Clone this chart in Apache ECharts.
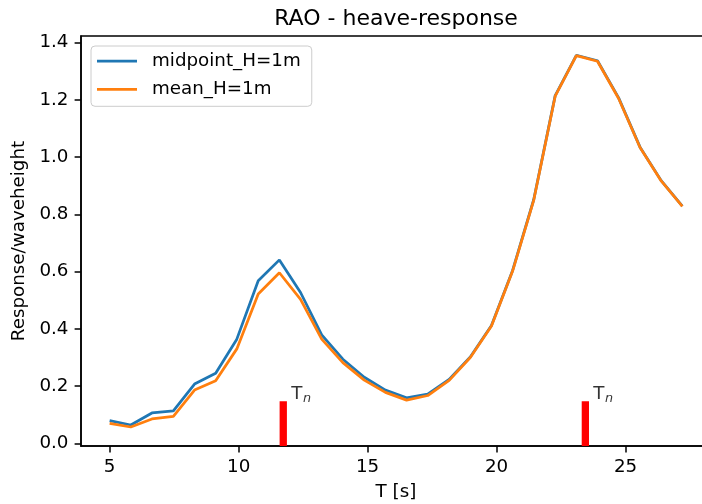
<!DOCTYPE html>
<html><head><meta charset="utf-8">
<script src="https://cdn.jsdelivr.net/npm/echarts@6/dist/echarts.min.js"></script>
<style>html,body{margin:0;padding:0;background:#fff}#c{width:702px;height:504px}</style>
</head><body><div id="c"></div>
<script>
const periods = [5.00, 5.82, 6.64, 7.47, 8.29, 9.11, 9.93, 10.76, 11.58, 12.40, 13.22, 14.04, 14.87, 15.69, 16.51, 17.33, 18.16, 18.98, 19.80, 20.62, 21.44, 22.27, 23.09, 23.91, 24.73, 25.56, 26.38, 27.20];
const midpoint = [0.079, 0.064, 0.106, 0.113, 0.207, 0.245, 0.364, 0.568, 0.641, 0.527, 0.379, 0.294, 0.231, 0.186, 0.159, 0.172, 0.223, 0.302, 0.412, 0.604, 0.852, 1.215, 1.356, 1.337, 1.207, 1.035, 0.918, 0.829];
const meanVals = [0.070, 0.057, 0.085, 0.094, 0.186, 0.219, 0.330, 0.522, 0.596, 0.503, 0.364, 0.282, 0.221, 0.178, 0.151, 0.167, 0.220, 0.300, 0.410, 0.602, 0.850, 1.213, 1.355, 1.335, 1.205, 1.034, 0.917, 0.828];
const naturalPeriods = [11.73, 23.44];
const tnLabelY = 0.15;
const xTicks = [5, 10, 15, 20, 25];
const yTicks = [0, 0.2, 0.4, 0.6, 0.8, 1.0, 1.2, 1.4];
const xRange = [3.89, 28.31];
const yRange = [-0.0094, 1.4234];

const FONT = 'DejaVu Sans';
const FS = 18.3;
const TITLE_FS = 22;
const GRID = {left: 81, top: 36, width: 630, height: 410};
const barW = 7.3;
const pxPerY = GRID.height / (yRange[1] - yRange[0]);
// axvline up to 10% of axes height, with projecting cap at the top
const barTop = yRange[0] + 0.1 * (yRange[1] - yRange[0]) + (barW / 2) / pxPerY;

const titleText = 'RAO - heave-response';
const ctx = document.createElement('canvas').getContext('2d');
ctx.font = TITLE_FS + 'px "' + FONT + '"';
const titleW = ctx.measureText(titleText).width;
const axesCenterX = GRID.left + GRID.width / 2;

const chart = echarts.init(document.getElementById('c'), null, {renderer: 'canvas'});
const series = [
  {name: 'midpoint_H=1m', type: 'line', data: periods.map((t, i) => [t, midpoint[i]]),
   showSymbol: false, symbol: 'none', lineStyle: {color: '#1f77b4', width: 2.75}, itemStyle: {color: '#1f77b4'}, z: 3},
  {name: 'mean_H=1m', type: 'line', data: periods.map((t, i) => [t, meanVals[i]]),
   showSymbol: false, symbol: 'none', lineStyle: {color: '#ff7f0e', width: 2.75}, itemStyle: {color: '#ff7f0e'}, z: 4}
];
naturalPeriods.forEach((tn, k) => {
  series.push({name: 'tn' + k, type: 'line', data: [[tn, yRange[0]], [tn, barTop]], symbol: 'none',
    lineStyle: {color: '#ff0000', width: barW, cap: 'butt'}, silent: true, z: 2});
});
series.push({name: 'tnT', type: 'scatter', data: naturalPeriods.map(tn => [tn, tnLabelY]), symbolSize: 1,
  itemStyle: {color: 'rgba(0,0,0,0)'}, silent: true, z: 5,
  label: {show: true, position: [8.4, -5.4], align: 'left', verticalAlign: 'middle', formatter: 'T',
    fontFamily: FONT, fontSize: FS, color: '#000'}});
series.push({name: 'tnSub', type: 'scatter', data: naturalPeriods.map(tn => [tn, tnLabelY]), symbolSize: 1,
  itemStyle: {color: 'rgba(0,0,0,0)'}, silent: true, z: 5,
  label: {show: true, position: [20.2, -1.3], align: 'left', verticalAlign: 'middle', formatter: 'n',
    fontFamily: FONT, fontSize: 12.8, fontStyle: 'italic', color: '#000'}});

chart.setOption({
  animation: false,
  backgroundColor: '#fff',
  title: {text: titleText, left: axesCenterX - titleW / 2, top: 7, padding: 0,
    textStyle: {fontFamily: FONT, fontSize: TITLE_FS, fontWeight: 'normal', color: '#000', lineHeight: 24}},
  legend: {data: ['midpoint_H=1m', 'mean_H=1m'], orient: 'vertical', left: 91, top: 46,
    icon: 'rect', itemWidth: 40, itemHeight: 2.75, itemGap: 6.3,
    padding: [4, 11, 6, 6], backgroundColor: 'rgba(255,255,255,0.8)', borderColor: '#cccccc', borderWidth: 1, borderRadius: 4,
    textStyle: {fontFamily: FONT, fontSize: FS, color: '#000', lineHeight: 22, padding: [0, 0, 0, 10]}},
  grid: Object.assign({show: true, borderColor: '#000', borderWidth: 1.5, outerBoundsMode: 'none'}, GRID),
  xAxis: {type: 'value', min: xRange[0], max: xRange[1], splitLine: {show: false},
    name: 'T [s]', nameLocation: 'middle', nameGap: 37, nameTextStyle: {fontFamily: FONT, fontSize: FS, color: '#000'},
    axisLine: {show: true, onZero: false, lineStyle: {color: '#000', width: 1.5}},
    axisTick: {show: true, length: 6.4, lineStyle: {color: '#000', width: 1.5}, customValues: xTicks},
    axisLabel: {margin: 12, fontFamily: FONT, fontSize: FS, color: '#000', customValues: xTicks, formatter: v => String(v)}},
  yAxis: {type: 'value', min: yRange[0], max: yRange[1], splitLine: {show: false},
    name: 'Response/waveheight', nameLocation: 'middle', nameGap: 46, nameRotate: 90, nameTextStyle: {fontFamily: FONT, fontSize: FS, color: '#000'},
    axisLine: {show: true, onZero: false, lineStyle: {color: '#000', width: 1.5}},
    axisTick: {show: true, length: 6.4, lineStyle: {color: '#000', width: 1.5}, customValues: yTicks},
    axisLabel: {margin: 12.5, fontFamily: FONT, fontSize: FS, color: '#000', customValues: yTicks, formatter: v => v.toFixed(1)}},
  series: series
});
</script></body></html>
